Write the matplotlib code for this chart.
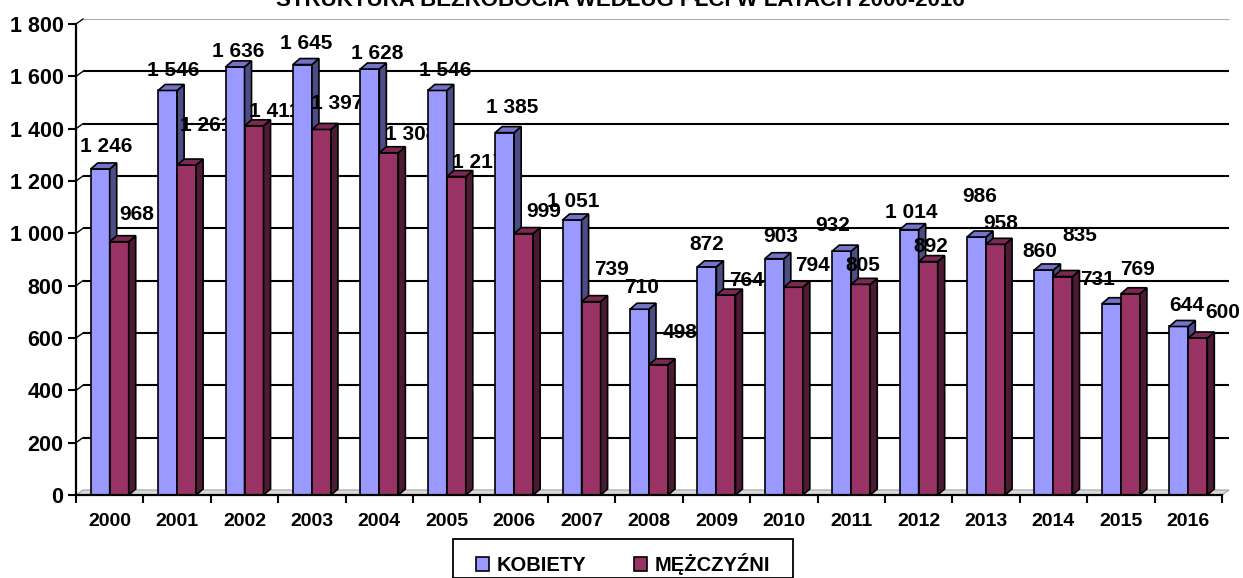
import numpy as np
import matplotlib
matplotlib.use("Agg")
import matplotlib.pyplot as plt
from matplotlib.patches import Polygon, Rectangle, Patch

plt.rcParams['font.family'] = ['Liberation Sans', 'DejaVu Sans']
plt.rcParams['font.weight'] = 'bold'

# data
years = [str(y) for y in range(2000, 2017)]
kobiety = [1246, 1546, 1636, 1645, 1628, 1546, 1385, 1051, 710, 872, 903, 932, 1014, 986, 860, 731, 644]
mezczyzni = [968, 1261, 1411, 1397, 1308, 1217, 999, 739, 498, 764, 794, 805, 892, 958, 835, 769, 600]
series_names = ["KOBIETY", "MĘŻCZYŹNI"]
title = "STRUKTURA BEZROBOCIA WEDŁUG PŁCI W LATACH 2000-2016"

# label placement (pixels, relative to the bar's front centre / top)
label_dx_k = [6, 6, 3, 4, 7, 8, 8, 1, 2, 0, 6, -9, 2, 3, -4, -14, 8]
label_dy_k = [22, 20, 15, 21, 16, 20, 25, 18, 22, 22, 22, 26, 17, 40, 18, 24, 21]
label_dx_m = [17, 20, 21, 16, 22, 22, 20, 20, 22, 21, 19, 2, 3, 5, 17, 7, 25]
label_dy_m = [27, 40, 14, 26, 18, 14, 22, 32, 32, 15, 22, 19, 15, 21, 41, 24, 26]

colors_front = ["#9999FF", "#993366"]
colors_side = ["#4D4D85", "#4C1A33"]
colors_top = ["#7373C8", "#7A2952"]

W, H, DPI = 1243, 578, 100
fig = plt.figure(figsize=(W / DPI, H / DPI), dpi=DPI)

# plot area in pixels
x0, x1, ybot, ytop = 76, 1222, 495, 24
ax = fig.add_axes([x0 / W, 1 - ybot / H, (x1 - x0) / W, (ybot - ytop) / H])
n = len(years)
ymax = 1800
ax.set_xlim(0, n)
ax.set_ylim(0, ymax)

# pixel -> data unit conversions
ux = n / (x1 - x0)
uy = ymax / (ybot - ytop)
ddx, ddy = 7 * ux, 6 * uy      # bar depth
wdx, wdy = 7 * ux, 5 * uy      # back wall offset

bw = 0.282
lw = 1.2

# floor and back wall grid
floor = Polygon([(0, 0), (n, 0), (n + wdx, wdy), (wdx, wdy)], closed=True,
                facecolor="#DADADA", edgecolor="#A0A0A0", lw=0.8, zorder=1, clip_on=False)
ax.add_patch(floor)
for v in range(200, ymax + 1, 200):
    c, w = ("#B0B0B0", 0.8) if v == ymax else ("black", 1.5)
    ax.plot([wdx, n + wdx], [v + wdy, v + wdy], color=c, lw=w, zorder=1, clip_on=False,
            solid_capstyle="butt")
    ax.plot([0, wdx], [v, v + wdy], color="black", lw=1.0, zorder=1, clip_on=False)


def draw_bar(xl, h, k, z):
    xr = xl + bw
    ax.add_patch(Rectangle((xl, 0), bw, h, facecolor=colors_front[k], edgecolor="black",
                           lw=lw, zorder=z, joinstyle="miter"))
    side = [(xr, 0), (xr, h), (xr + ddx, h + ddy), (xr + ddx, ddy)]
    ax.add_patch(Polygon(side, closed=True, facecolor=colors_side[k], edgecolor="black",
                         lw=lw, zorder=z, joinstyle="miter", clip_on=False))
    top = [(xl, h), (xr, h), (xr + ddx, h + ddy), (xl + ddx, h + ddy)]
    ax.add_patch(Polygon(top, closed=True, facecolor=colors_top[k], edgecolor="black",
                         lw=lw, zorder=z, joinstyle="miter", clip_on=False))


def fmt(v):
    return "{:,}".format(int(v)).replace(",", " ")


# each year is drawn in turn: bars, then its labels, so the next year's bars cover them
centers = np.arange(n) + 0.5
for i in range(n):
    z = 3 + 0.1 * i
    draw_bar(centers[i] - bw, kobiety[i], 0, z)
    draw_bar(centers[i], mezczyzni[i], 1, z + 0.01)
    ax.annotate(fmt(kobiety[i]), xy=(centers[i] - bw / 2, kobiety[i]),
                xytext=(label_dx_k[i] * 0.72, label_dy_k[i] * 0.72), textcoords="offset points",
                ha="center", va="center", fontsize=15, fontweight="bold", zorder=z + 0.05)
    ax.annotate(fmt(mezczyzni[i]), xy=(centers[i] + bw / 2, mezczyzni[i]),
                xytext=(label_dx_m[i] * 0.72, label_dy_m[i] * 0.72), textcoords="offset points",
                ha="center", va="center", fontsize=15, fontweight="bold", zorder=z + 0.05)

# axes styling
for s in ["top", "right"]:
    ax.spines[s].set_visible(False)
for s in ["left", "bottom"]:
    ax.spines[s].set_linewidth(1.6)
    ax.spines[s].set_zorder(10)
ax.set_yticks(range(0, ymax + 1, 200))
ax.set_yticklabels([fmt(v) for v in range(0, ymax + 1, 200)])
ax.tick_params(axis="y", direction="out", length=6, width=1.5, pad=3, labelsize=15.5)
ax.set_xticks(np.arange(n + 1))
ax.set_xticklabels([])
ax.tick_params(axis="x", which="major", direction="out", length=6, width=1.5)
ax.set_xticks(centers, minor=True)
ax.set_xticklabels(years, minor=True)
ax.tick_params(axis="x", which="minor", length=0, pad=13, labelsize=14)
for t in ax.get_xticklabels(minor=True) + ax.get_yticklabels():
    t.set_fontweight("bold")

fig.text(620 / W, 1 - 6 / H, title, ha="center", va="baseline", fontsize=16, fontweight="bold")

# legend
handles = [Patch(facecolor=c, edgecolor="black", lw=1.2) for c in colors_front]
fig.legend(handles, series_names, loc="upper left", bbox_to_anchor=(476 / W, 1 - 553 / H),
           ncol=2, frameon=False, handlelength=0.65, handleheight=0.65,
           handletextpad=0.35, columnspacing=2.4, borderpad=0.0, borderaxespad=0.0,
           prop={"weight": "bold", "size": 14.5})
fig.patches.append(Rectangle((453 / W, 0), (793 - 453) / W, (H - 551) / H + 0.02,
                             transform=fig.transFigure, fill=False, edgecolor="black", lw=1.3))

fig.savefig("out.png", dpi=DPI)
